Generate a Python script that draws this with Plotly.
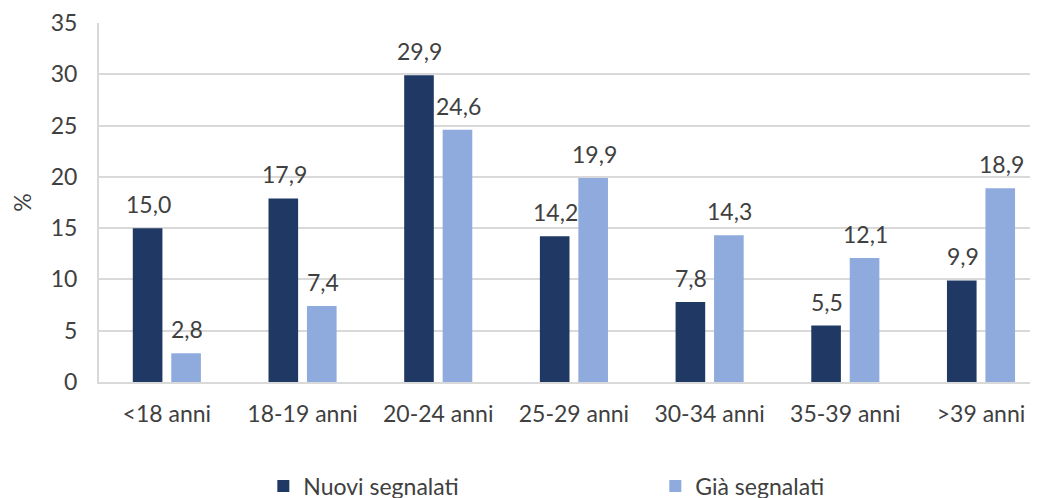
import plotly.graph_objects as go

categories = ["<18 anni", "18-19 anni", "20-24 anni", "25-29 anni", "30-34 anni", "35-39 anni", ">39 anni"]
nuovi = [15.0, 17.9, 29.9, 14.2, 7.8, 5.5, 9.9]
gia = [2.8, 7.4, 24.6, 19.9, 14.3, 12.1, 18.9]
series_names = ["Nuovi segnalati", "Già segnalati"]
colors = ["#203864", "#8FAADC"]
y_ticks = [0, 5, 10, 15, 20, 25, 30, 35]

FONT = "Lato, 'Open Sans', sans-serif"
TXT = "#404040"
FS = 23

W, H = 1030, 490
ML, MR, MT, MB = 91, 0, 15, 116
BARGAP = 0.433
GROUPGAP = 0.23
X_RANGE = [-0.5, len(categories) - 0.58]  # plot area runs off the right edge

fig = go.Figure()
for name, vals, col in zip(series_names, [nuovi, gia], colors):
    fig.add_trace(go.Bar(x=categories, y=vals, name=name, marker_color=col,
                         marker_line_width=0))

# labels above bars
plot_w = W - ML - MR
cat_w = plot_w / (X_RANGE[1] - X_RANGE[0])
slot = cat_w * (1 - BARGAP) / 2
for i, vals in enumerate([nuovi, gia]):
    shift = (i - 0.5) * slot
    for c, v in zip(categories, vals):
        fig.add_annotation(x=c, y=v, text=f"{v:.1f}".replace(".", ","),
                           showarrow=False, yanchor="bottom", xshift=shift + 1, yshift=8,
                           font=dict(family=FONT, size=FS, color=TXT))

fig.update_layout(
    width=W, height=H,
    margin=dict(l=ML, r=MR, t=MT, b=MB, autoexpand=False),
    plot_bgcolor="white", paper_bgcolor="white",
    barmode="group", bargap=BARGAP, bargroupgap=GROUPGAP,
    font=dict(family=FONT, size=FS, color=TXT),
    legend=dict(orientation="h", x=0.175, xanchor="left", y=-0.29, yanchor="middle",
                entrywidth=347, entrywidthmode="pixels",
                font=dict(family=FONT, size=FS, color=TXT), itemwidth=30,
                tracegroupgap=0),
    showlegend=True,
)
fig.update_xaxes(range=X_RANGE, showgrid=False, showline=True, linecolor="#d9d9d9", linewidth=2,
                 ticks="", tickfont=dict(size=FS, color=TXT), automargin=False,
                 ticklabelstandoff=10)
fig.update_yaxes(range=[0, 35], tickvals=y_ticks, showgrid=True, gridcolor="#d9d9d9",
                 gridwidth=1.5, showline=True, linecolor="#d9d9d9", linewidth=2,
                 ticks="", ticklen=0, tickfont=dict(size=FS, color=TXT),
                 ticklabelstandoff=15,
                 title=dict(text="%", font=dict(size=FS, color=TXT), standoff=30),
                 zeroline=False, automargin=False)

fig.write_html("out.html")
